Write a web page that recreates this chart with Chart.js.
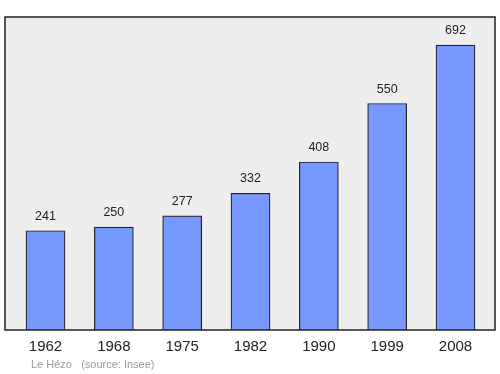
<!DOCTYPE html>
<html>
<head>
<meta charset="utf-8">
<script src="https://cdn.jsdelivr.net/npm/chart.js@4"></script>
<style>
html, body { margin: 0; padding: 0; background: #fff; }
#wrap { width: 500px; height: 374px; }
</style>
</head>
<body>
<div id="wrap"><canvas id="popChart" width="500" height="374"></canvas></div>
<script>
var years = ['1962', '1968', '1975', '1982', '1990', '1999', '2008'];
var population = [241, 250, 277, 332, 408, 550, 692];
var footerText = 'Le Hézo   (source: Insee)';

// fond gris, cadre, étiquettes
var decor = {
    id: 'decor',
    beforeDraw: function(chart) {
        var a = chart.chartArea, c = chart.ctx;
        c.save();
        c.fillStyle = '#eeeeee';
        c.fillRect(a.left, a.top, a.right - a.left, a.bottom - a.top);
        c.restore();
    },
    afterDraw: function(chart) {
        var a = chart.chartArea, c = chart.ctx;
        var xs = chart.scales.x, ys = chart.scales.y;
        c.save();
        c.strokeStyle = '#222';
        c.lineWidth = 1.5;
        c.strokeRect(a.left, a.top, a.right - a.left, a.bottom - a.top);
        c.textAlign = 'center';
        c.fillStyle = '#222';
        c.font = '12.5px "Liberation Sans", Arial, sans-serif';
        c.textBaseline = 'bottom';
        for (var i = 0; i < years.length; i++) {
            var x = xs.getPixelForValue(i);
            c.fillText(String(population[i]), x, ys.getPixelForValue(population[i]) - 8);
        }
        c.font = '15px "Liberation Sans", Arial, sans-serif';
        c.textBaseline = 'middle';
        for (var j = 0; j < years.length; j++) {
            c.fillText(years[j], xs.getPixelForValue(j), 347);
        }
        c.textAlign = 'left';
        c.fillStyle = '#999';
        c.font = '11px "Liberation Sans", Arial, sans-serif';
        c.fillText(footerText, 31, 365);
        c.restore();
    }
};

var ctx = document.getElementById('popChart').getContext('2d');
var popChart = new Chart(ctx, {
    type: 'bar',
    data: {
        datasets: [{
            label: 'Population',
            data: population.map(function(v, i) { return { x: i, y: v }; }),
            backgroundColor: '#7799ff',
            borderColor: '#222',
            borderWidth: 1.2,
            barThickness: 39
        }]
    },
    options: {
        responsive: false,
        animation: false,
        layout: { padding: { left: 5, top: 17, right: 5, bottom: 44 } },
        plugins: { legend: { display: false }, tooltip: { enabled: false } },
        scales: {
            x: { type: 'linear', offset: false, min: -0.593, max: 6.578, display: false },
            y: { min: 0, max: 760, display: false }
        }
    },
    plugins: [decor]
});
</script>
</body>
</html>
